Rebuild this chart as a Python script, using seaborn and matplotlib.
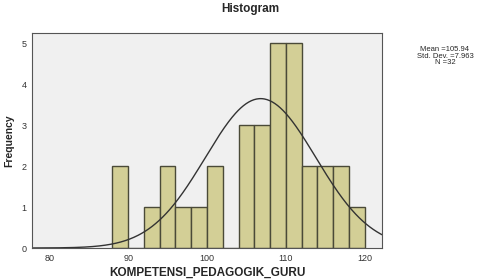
import numpy as np
import pandas as pd
import matplotlib
matplotlib.use("Agg")
import matplotlib.pyplot as plt
import seaborn as sns

# bin edges (width 2) and counts
bin_edges = list(range(88, 122, 2))
counts = [2, 0, 1, 2, 1, 1, 2, 0, 3, 3, 5, 5, 2, 2, 2, 1]
bin_centers = [e + 1 for e in bin_edges[:-1]]

stat_mean = 105.94
stat_sd = 7.963
stat_n = 32

# normal curve as drawn in the picture
curve_mean = 106.8
curve_sd = 7.0

df = pd.DataFrame({'value': bin_centers, 'count': counts})

sns.set_style("white")
plt.rcParams['font.family'] = ['Liberation Sans', 'DejaVu Sans']

fig = plt.figure(figsize=(4.89, 2.80), dpi=100)
ax = fig.add_axes([32 / 489, 1 - 248 / 280, 350 / 489, 215 / 280])
ax.set_facecolor('#f0f0f0')

sns.histplot(data=df, x='value', weights='count', bins=bin_edges, ax=ax,
             color='#d3cf96', edgecolor='#4a4a38', linewidth=1.0, alpha=1.0)

xs = np.linspace(77.8, 122.2, 400)
binw = bin_edges[1] - bin_edges[0]
ys = stat_n * binw / (curve_sd * np.sqrt(2 * np.pi)) * np.exp(-0.5 * ((xs - curve_mean) / curve_sd) ** 2)
sns.lineplot(x=xs, y=ys, ax=ax, color='#333333', linewidth=1.0)

ax.set_xlim(77.8, 122.2)
ax.set_ylim(0, 5.25)
ax.set_xticks([80, 90, 100, 110, 120])
ax.set_yticks([0, 1, 2, 3, 4, 5])
ax.tick_params(axis='both', labelsize=6.5, labelcolor='#333333', length=3, width=0.6,
               direction='out', pad=1, color='#555555')
for s in ax.spines.values():
    s.set_color('#555555')
    s.set_linewidth(0.8)

ax.set_xlabel('KOMPETENSI_PEDAGOGIK_GURU', fontsize=8.5, fontweight='bold', labelpad=3)
ax.set_ylabel('Frequency', fontsize=7.5, fontweight='bold', labelpad=5)

fig.text(250 / 489, 1 - 9 / 280, 'Histogram', ha='center', va='center', fontsize=8.5, fontweight='bold')
fig.text(445 / 489, 1 - 56 / 280, f'Mean ={stat_mean}\nStd. Dev. ={stat_sd}\nN ={stat_n}',
         ha='center', va='center', fontsize=5.5, linespacing=0.9)

fig.savefig('out.png', dpi=100)
